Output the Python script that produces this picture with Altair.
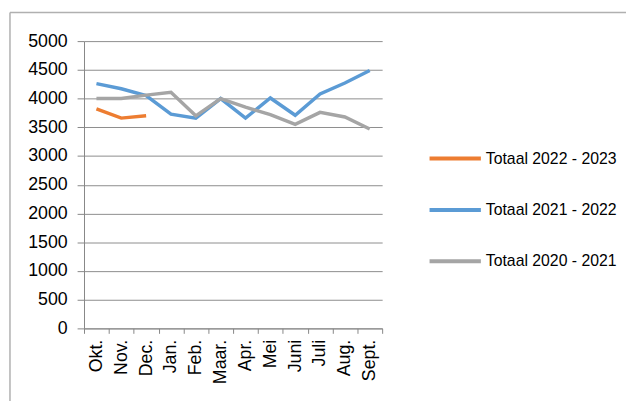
import altair as alt
import pandas as pd

months = ["Okt.", "Nov.", "Dec.", "Jan.", "Feb.", "Maar.", "Apr.", "Mei",
          "Juni", "Juli", "Aug.", "Sept."]
series_names = ["Totaal 2022 - 2023", "Totaal 2021 - 2022", "Totaal 2020 - 2021"]
series_colors = ["#ED7D31", "#5B9BD5", "#A5A5A5"]
totaal_2022_2023 = [3820, 3660, 3700]
totaal_2021_2022 = [4260, 4170, 4050, 3730, 3660, 4000, 3660, 4010, 3710, 4080, 4270, 4490]
totaal_2020_2021 = [4000, 4000, 4060, 4110, 3700, 4000, 3850, 3720, 3550, 3760, 3680, 3470]
y_ticks = [0, 500, 1000, 1500, 2000, 2500, 3000, 3500, 4000, 4500, 5000]

rows = []
for name, vals in zip(series_names, [totaal_2022_2023, totaal_2021_2022, totaal_2020_2021]):
    for m, v in zip(months, vals):
        rows.append({"month": m, "series": name, "value": v})
df = pd.DataFrame(rows)

FONT = "Liberation Sans"

x_enc = alt.X(
    "month:N", sort=months, bandPosition=0.5,
    scale=alt.Scale(type="band", paddingInner=0, paddingOuter=0),
    axis=alt.Axis(title=None, labelAngle=270, tickBand="extent", tickSize=5,
                  labelPadding=6, labelFontSize=18, labelFont=FONT,
                  labelColor="#000000", domainColor="#868686", tickColor="#868686",
                  grid=False),
)
y_enc = alt.Y(
    "value:Q", scale=alt.Scale(domain=[0, 5000]),
    axis=alt.Axis(title=None, values=y_ticks, format="d", grid=True, gridColor="#8c8c8c",
                  tickSize=7, labelPadding=10, labelFontSize=18, labelFont=FONT,
                  labelColor="#000000", domainColor="#868686", tickColor="#868686"),
)
color_enc = alt.Color(
    "series:N",
    scale=alt.Scale(domain=series_names, range=series_colors),
    legend=alt.Legend(title=None, orient="none", legendX=348, legendY=91,
                      symbolType="stroke", symbolSize=2704, symbolStrokeWidth=4,
                      labelFontSize=16, labelFont=FONT, labelColor="#000000",
                      labelOffset=3, rowPadding=16, padding=0),
)

lines = [
    alt.Chart(df).transform_filter(alt.datum.series == name)
    .mark_line(strokeWidth=3.5)
    .encode(x=x_enc, y=y_enc, color=color_enc)
    for name in series_names
]

frame_data = alt.Data(values=[{"k": 1}])
frame_top = alt.Chart(frame_data).mark_rule(color="#b0b0b0", strokeWidth=1.5).encode(
    x=alt.value(-75), x2=alt.value(560), y=alt.value(-29))
frame_left = alt.Chart(frame_data).mark_rule(color="#b0b0b0", strokeWidth=1.5).encode(
    x=alt.value(-75), y=alt.value(-29), y2=alt.value(420))

chart = alt.layer(frame_top, frame_left, *lines).properties(
    width=302, height=291,
    padding={"left": 77, "top": 31, "right": 247, "bottom": 71},
    autosize=alt.AutoSizeParams(type="none"),
    background="#ffffff",
).configure_view(stroke=None)

chart.save("out.html", embed_options={"renderer": "svg", "actions": False})
